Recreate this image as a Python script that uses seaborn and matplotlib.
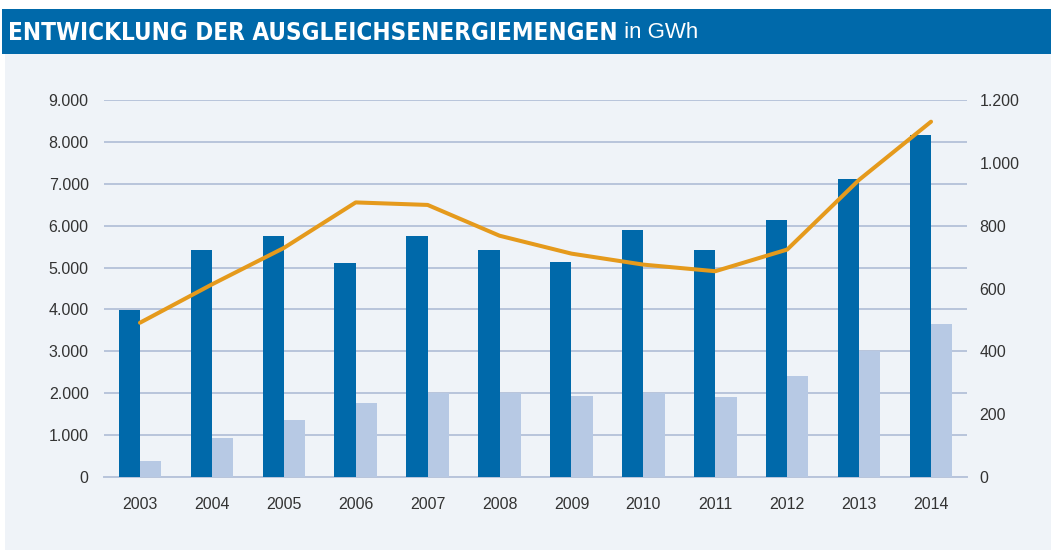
import numpy as np
import pandas as pd
import matplotlib
matplotlib.use("Agg")
import matplotlib.pyplot as plt
from matplotlib.patches import Rectangle
from matplotlib.ticker import FuncFormatter, FixedLocator
import seaborn as sns

# ---- data ----
years = ["2003", "2004", "2005", "2006", "2007", "2008",
         "2009", "2010", "2011", "2012", "2013", "2014"]
series_dark = [3980, 5430, 5745, 5110, 5745, 5430, 5140, 5900, 5420, 6125, 7110, 8175]
series_light = [380, 935, 1350, 1760, 2015, 2000, 1935, 2015, 1900, 2400, 3010, 3645]
line_values = [491, 613, 729, 874, 866, 768, 711, 676, 655, 724, 946, 1131]
left_ticks = [0, 1000, 2000, 3000, 4000, 5000, 6000, 7000, 8000, 9000]
right_ticks = [0, 200, 400, 600, 800, 1000, 1200]
title_bold = "ENTWICKLUNG DER AUSGLEICHSENERGIEMENGEN"
title_light = " in GWh"

DARK = "#0069aa"
LIGHT = "#b7c9e4"
ORANGE = "#e59a1c"
GRID = "#b8c4db"
BG = "#eff3f8"
TXT = "#333333"

sns.set_theme(style="white")
plt.rcParams["font.family"] = ["Liberation Sans", "DejaVu Sans"]

W, H = 1051, 550
fig = plt.figure(figsize=(W / 100, H / 100), dpi=100)
fig.patch.set_facecolor("white")
# panel background
fig.patches.append(Rectangle((5 / W, 0), 1, (550 - 54) / H, transform=fig.transFigure,
                             facecolor=BG, edgecolor="none", zorder=-10))
# title band
fig.patches.append(Rectangle((2 / W, (550 - 54) / H), 1, 45 / H, transform=fig.transFigure,
                             facecolor=DARK, edgecolor="none", zorder=-9))

ax = fig.add_axes([104 / W, 1 - 477 / H, (967 - 104) / W, (477 - 100) / H])
ax.set_facecolor("none")

df = pd.DataFrame({
    "year": years * 2,
    "value": series_dark + series_light,
    "series": ["a"] * len(years) + ["b"] * len(years),
})
sns.barplot(data=df, x="year", y="value", hue="series", order=years,
            palette=[DARK, LIGHT], width=0.59, gap=0, saturation=1,
            edgecolor="none", linewidth=0, legend=False, ax=ax, zorder=3)

ax.set_ylim(0, 9000)
ax.set_xlim(-0.5, len(years) - 0.5)
ax.yaxis.set_major_locator(FixedLocator(left_ticks))
fmt = FuncFormatter(lambda v, p: f"{int(round(v)):,}".replace(",", "."))
ax.yaxis.set_major_formatter(fmt)
ax.grid(axis="y", color=GRID, linewidth=1.4, zorder=0)
ax.set_axisbelow(True)
for s in ["top", "left", "right"]:
    ax.spines[s].set_visible(False)
ax.spines["bottom"].set_color(GRID)
ax.spines["bottom"].set_linewidth(1.4)
ax.tick_params(axis="y", length=0, pad=11, labelsize=11.5, labelcolor=TXT)
ax.tick_params(axis="x", which="major", length=0, pad=14.5, labelsize=11.5, labelcolor=TXT)
ax.set_xticks(np.arange(-0.5, len(years), 1.0), minor=True)
ax.tick_params(axis="x", which="minor", length=5, width=1.4, color=GRID, direction="out")
ax.set_xlabel("")
ax.set_ylabel("")

ax2 = ax.twinx()
ax2.set_facecolor("none")
sns.pointplot(x=years, y=line_values, order=years, color=ORANGE, markers="",
              linewidth=2.9, errorbar=None, ax=ax2)
ax2.set_ylim(0, 1200)
ax2.set_xlim(-0.5, len(years) - 0.5)
ax2.yaxis.set_major_locator(FixedLocator(right_ticks))
ax2.yaxis.set_major_formatter(fmt)
for s in ["top", "left", "right", "bottom"]:
    ax2.spines[s].set_visible(False)
ax2.tick_params(axis="y", length=0, pad=9, labelsize=11.5, labelcolor=TXT)
ax2.set_ylabel("")
ax2.grid(False)

# title
t1 = fig.text(8 / W, 1 - 32.5 / H, title_bold, color="white", fontsize=17.4, fontweight="bold",
              fontstretch="condensed", family=["DejaVu Sans"],
              va="center", ha="left")
fig.canvas.draw()
bb = t1.get_window_extent(fig.canvas.get_renderer())
fig.text(bb.x1 / W, 1 - 32.5 / H, title_light, color="white", fontsize=16,
         family=["Liberation Sans"], va="center", ha="left")

fig.savefig("out.png", dpi=100, facecolor=fig.get_facecolor())
